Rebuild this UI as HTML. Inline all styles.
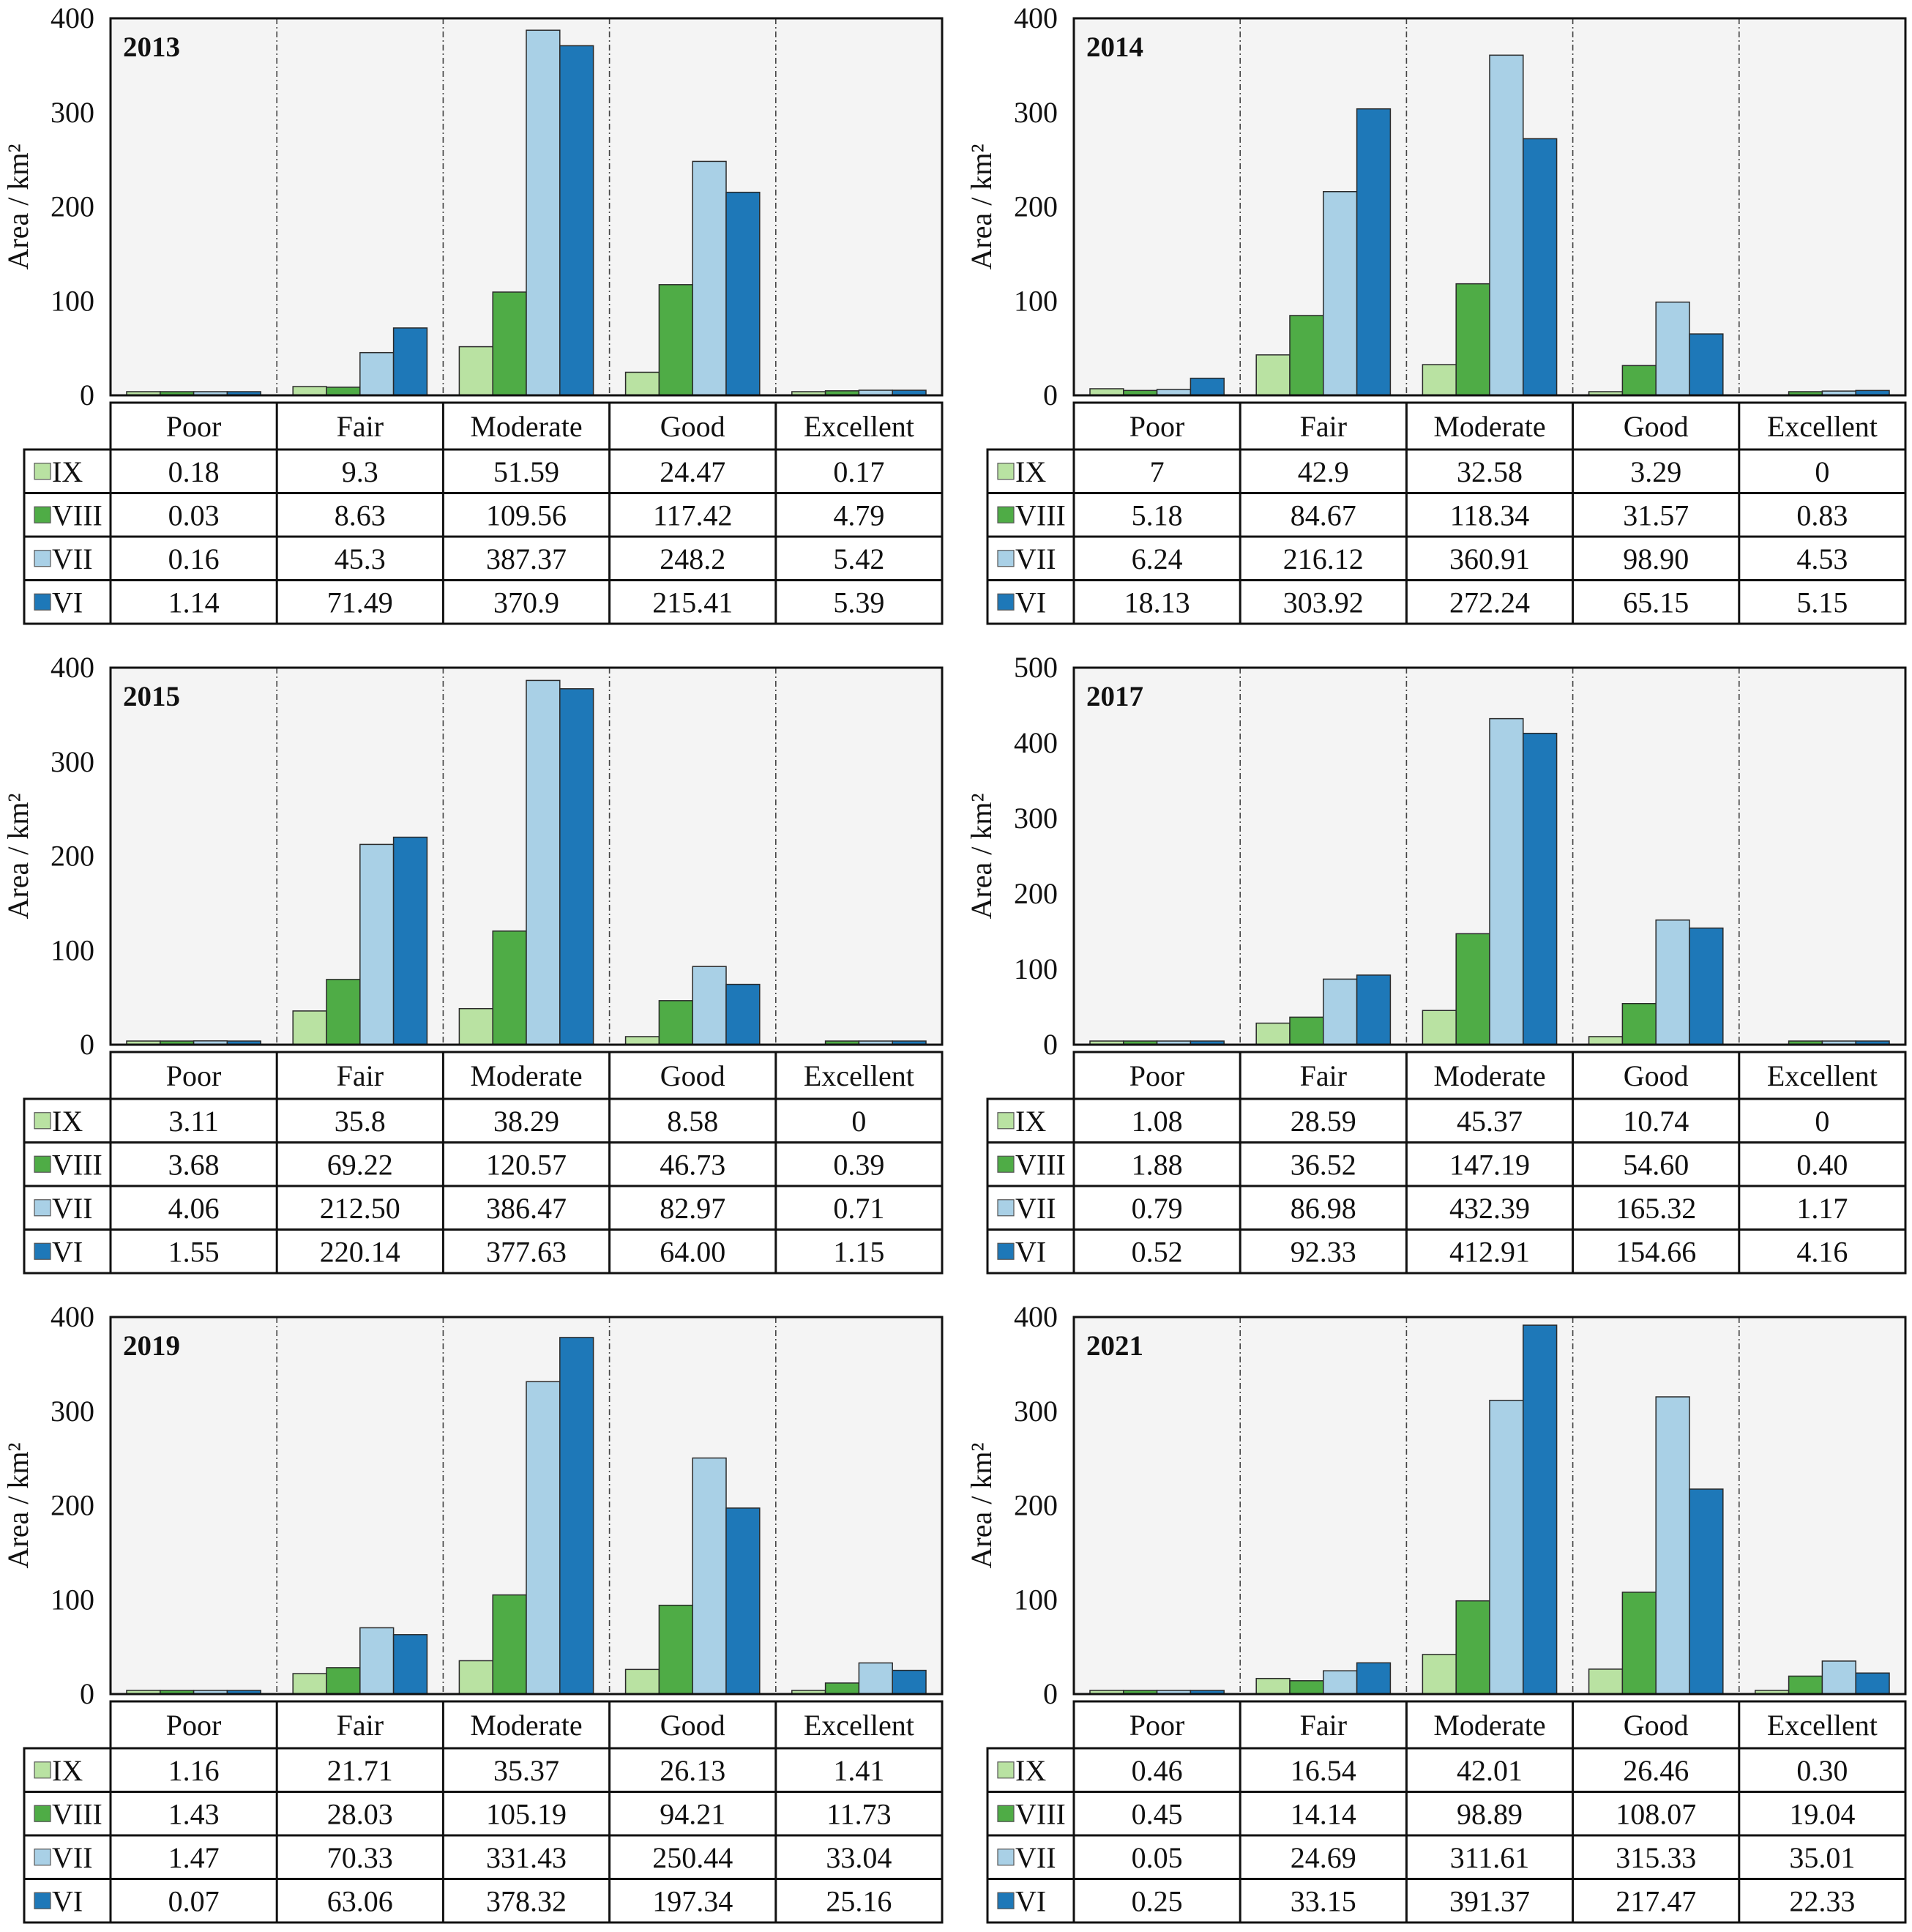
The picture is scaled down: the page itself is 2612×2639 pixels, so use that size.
<!DOCTYPE html>
<html><head><meta charset="utf-8"><style>
html,body{margin:0;padding:0;background:#fff;}
svg{display:block;}
text{font-family:"Liberation Serif",serif;fill:#111;}
</style></head><body>
<svg id="chart" width="2612" height="2639" viewBox="0 0 2612 2639" xmlns="http://www.w3.org/2000/svg"></svg>
<script>
const years = ["2013","2014","2015","2017","2019","2021"];
const yMaxes = [400,400,400,500,400,400];
const categories = ["Poor","Fair","Moderate","Good","Excellent"];
const seriesNames = ["IX","VIII","VII","VI"];
const seriesColors = ["#b9e2a2","#4fac46","#a9d0e6","#1e78b8"];
const v2013 = [["0.18","9.3","51.59","24.47","0.17"],["0.03","8.63","109.56","117.42","4.79"],["0.16","45.3","387.37","248.2","5.42"],["1.14","71.49","370.9","215.41","5.39"]];
const v2014 = [["7","42.9","32.58","3.29","0"],["5.18","84.67","118.34","31.57","0.83"],["6.24","216.12","360.91","98.90","4.53"],["18.13","303.92","272.24","65.15","5.15"]];
const v2015 = [["3.11","35.8","38.29","8.58","0"],["3.68","69.22","120.57","46.73","0.39"],["4.06","212.50","386.47","82.97","0.71"],["1.55","220.14","377.63","64.00","1.15"]];
const v2017 = [["1.08","28.59","45.37","10.74","0"],["1.88","36.52","147.19","54.60","0.40"],["0.79","86.98","432.39","165.32","1.17"],["0.52","92.33","412.91","154.66","4.16"]];
const v2019 = [["1.16","21.71","35.37","26.13","1.41"],["1.43","28.03","105.19","94.21","11.73"],["1.47","70.33","331.43","250.44","33.04"],["0.07","63.06","378.32","197.34","25.16"]];
const v2021 = [["0.46","16.54","42.01","26.46","0.30"],["0.45","14.14","98.89","108.07","19.04"],["0.05","24.69","311.61","315.33","35.01"],["0.25","33.15","391.37","217.47","22.33"]];
const panelValues = [v2013,v2014,v2015,v2017,v2019,v2021];

const NS="http://www.w3.org/2000/svg";
const svg=document.getElementById('chart');
function mk(tag,attrs,parent){const e=document.createElementNS(NS,tag);for(const k in attrs)e.setAttribute(k,attrs[k]);(parent||svg).appendChild(e);return e;}

const plotL=151, plotR=1287, plotT=25, plotB=540;
const colW=(plotR-plotL)/5;
const rowH=59.5, headT=550, headB=614, labL=33;
const dx=1316, dy=887;

panelValues.forEach((vals,p)=>{
  const ox=(p%2)*dx, oy=Math.floor(p/2)*dy;
  const yMax=yMaxes[p];
  const g=mk('g',{transform:`translate(${ox},${oy})`});
  
  
  const yS=v=>plotB-(v/yMax)*(plotB-plotT);
  const xS=i=>plotL+i*colW;
  const bg=mk('rect',{x:plotL,y:plotT,width:plotR-plotL,height:plotB-plotT,fill:'#f4f4f4'},g);
  
  
  for(let i=1;i<5;i++){
    const l=mk('line',{x1:xS(i),x2:xS(i),y1:plotT,y2:plotB,stroke:'#444','stroke-width':1.6,'stroke-dasharray':'8 4 2 4'},g);
    
    
  }
  const bw=45.8, pad=(colW-4*bw)/2;
  vals.forEach((row,s)=>{
    row.forEach((vs,c)=>{
      const v=parseFloat(vs);
      if(v<=0) return;
      let y=yS(v); if(plotB-y<5) y=plotB-5;
      const r=mk('rect',{x:xS(c)+pad+s*bw,y:y,width:bw,height:plotB-y,fill:seriesColors[s],stroke:'#2a2a2a','stroke-width':1.5},g);
      
      
    });
  });
  const fr=mk('rect',{x:plotL,y:plotT,width:plotR-plotL,height:plotB-plotT,fill:'none',stroke:'#111','stroke-width':3},g);
  
  
  for(let t=0;t<=yMax;t+=100){
    const tx=mk('text',{x:plotL-22,y:yS(t)+13,'text-anchor':'end','font-size':40},g);
    tx.textContent=t;
    
    
  }
  const yl=mk('text',{x:0,y:0,transform:`translate(38,${(plotT+plotB)/2}) rotate(-90)`,'text-anchor':'middle','font-size':40},g);
  yl.textContent='Area / km²';
  
  
  const ti=mk('text',{x:plotL+17,y:plotT+52,'font-size':39,'font-weight':'bold'},g);
  ti.textContent=years[p];
  
  
  const tb=mk('g',{},g);
  
  
  const tBot=headB+4*rowH;
  mk('rect',{x:plotL,y:headT,width:plotR-plotL,height:headB-headT,fill:'none',stroke:'#111','stroke-width':3},tb);
  mk('rect',{x:labL,y:headB,width:plotR-labL,height:tBot-headB,fill:'none',stroke:'#111','stroke-width':3},tb);
  for(let r=1;r<4;r++) mk('line',{x1:labL,x2:plotR,y1:headB+r*rowH,y2:headB+r*rowH,stroke:'#111','stroke-width':3},tb);
  for(let i=0;i<5;i++) mk('line',{x1:xS(i),x2:xS(i),y1:headT,y2:tBot,stroke:'#111','stroke-width':3},tb);
  categories.forEach((c,i)=>{
    const t=mk('text',{x:xS(i)+colW/2,y:(headT+headB)/2+14,'text-anchor':'middle','font-size':40},tb);
    t.textContent=c;
    
    
  });
  vals.forEach((row,s)=>{
    const cy=headB+s*rowH+rowH/2;
    const sw=mk('rect',{x:labL+14,y:cy-11,width:22,height:22,fill:seriesColors[s],stroke:'#555','stroke-width':1.2},tb);
    
    
    const lt=mk('text',{x:labL+38,y:cy+14,'font-size':40},tb);
    lt.textContent=seriesNames[s];
    
    
    row.forEach((vs,c)=>{
      const t=mk('text',{x:xS(c)+colW/2,y:cy+14,'text-anchor':'middle','font-size':40},tb);
      t.textContent=vs;
      
      
    });
  });
});
</script>
</body></html>
